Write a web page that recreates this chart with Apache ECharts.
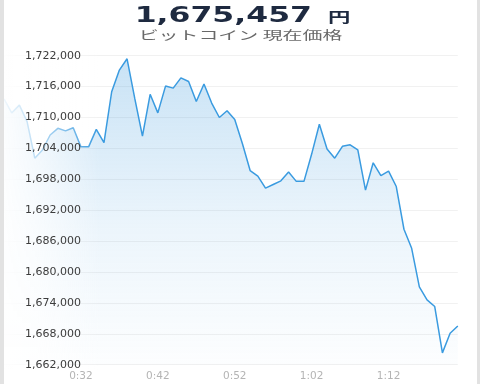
<!DOCTYPE html>
<html>
<head>
<meta charset="utf-8">
<script src="https://cdn.jsdelivr.net/npm/echarts@6/dist/echarts.min.js"></script>
<style>
html,body{margin:0;padding:0;background:#e2e2e2;width:480px;height:384px;overflow:hidden;}
#chart{position:absolute;left:4px;top:0;width:473px;height:384px;background:#ffffff;}
</style>
</head>
<body>
<div id="chart"></div>
<script>
const times = ['0:22','0:23','0:24','0:25','0:26','0:27','0:28','0:29','0:30','0:31',
  '0:32','0:33','0:34','0:35','0:36','0:37','0:38','0:39','0:40','0:41',
  '0:42','0:43','0:44','0:45','0:46','0:47','0:48','0:49','0:50','0:51',
  '0:52','0:53','0:54','0:55','0:56','0:57','0:58','0:59','1:00','1:01',
  '1:02','1:03','1:04','1:05','1:06','1:07','1:08','1:09','1:10','1:11',
  '1:12','1:13','1:14','1:15','1:16','1:17','1:18','1:19','1:20','1:21'];
const prices = [1713600,1710900,1712400,1709200,1702100,1703700,1706600,1707900,1707400,1708000,
  1704300,1704300,1707700,1705100,1715000,1719200,1721400,1713700,1706400,1714500,
  1710900,1716100,1715700,1717700,1717000,1713100,1716500,1712800,1710000,1711300,
  1709600,1704900,1699700,1698600,1696300,1697000,1697700,1699400,1697600,1697600,
  1702900,1708700,1703900,1702100,1704400,1704700,1703700,1695900,1701200,1698700,
  1699600,1696600,1688300,1684600,1677100,1674600,1673300,1664300,1668100,1669500];
const yTicks = [1662000,1668000,1674000,1680000,1686000,1692000,1698000,1704000,1710000,1716000,1722000];
const priceText = '1,675,457';
const unitText = '円';
const subtitleText = 'ビットコイン 現在価格';

const chart = echarts.init(document.getElementById('chart'), null, {renderer:'canvas'});
const yMin = yTicks[0], yMax = yTicks[yTicks.length-1], yStep = yTicks[1]-yTicks[0];
const fmt = v => Number(v).toLocaleString('en-US');

chart.setOption({
  animation:false,
  grid:{left:-2.3, right:19.2, top:55.7, bottom:19.3},
  xAxis:{
    type:'category', data:times, boundaryGap:false, z:10,
    axisLine:{show:false}, axisTick:{show:false}, splitLine:{show:false},
    axisLabel:{
      interval:9, hideOverlap:false, showMinLabel:false,
      color:'#b4b4b4', fontFamily:'DejaVu Sans', fontSize:10.5, margin:6
    }
  },
  yAxis:[{
    type:'value', min:yMin, max:yMax, interval:yStep, z:0,
    axisLine:{show:false}, axisTick:{show:false}, axisLabel:{show:false},
    splitLine:{show:true, lineStyle:{color:'#f1f1f1', width:1}}
  },{
    type:'value', min:yMin, max:yMax, interval:yStep, z:10, position:'left',
    axisLine:{show:false}, axisTick:{show:false}, splitLine:{show:false},
    axisLabel:{inside:true, margin:21, color:'#3c3c3c', fontFamily:'DejaVu Sans', fontSize:11, formatter:fmt}
  }],
  series:[{
    type:'line', data:prices, yAxisIndex:0, symbol:'none', smooth:false, z:2,
    lineStyle:{color:'#3a9be0', width:1.5},
    areaStyle:{color:new echarts.graphic.LinearGradient(0,0,0,1,[
      {offset:0, color:'rgba(70,158,222,0.42)'},
      {offset:0.55, color:'rgba(70,158,222,0.15)'},
      {offset:1, color:'rgba(70,158,222,0.02)'}
    ])}
  }],
  graphic:[
    {type:'rect', z:5, silent:true, shape:{x:0, y:50, width:96, height:320},
     style:{fill:new echarts.graphic.LinearGradient(0,0,1,0,[
       {offset:0, color:'rgba(255,255,255,0.92)'},
       {offset:0.35, color:'rgba(255,255,255,0.65)'},
       {offset:0.7, color:'rgba(255,255,255,0.3)'},
       {offset:1, color:'rgba(255,255,255,0)'}
     ])}},
    {type:'text', z:20, x:308, y:16.5, scaleX:1.5,
     style:{text:priceText, x:0, y:0, textAlign:'right', textVerticalAlign:'middle',
            font:'bold 21px "DejaVu Sans"', fill:'#1e2a40'}},
    {type:'text', z:20, x:324, y:17, scaleX:1.6,
     style:{text:unitText, x:0, y:0, textAlign:'left', textVerticalAlign:'middle',
            font:'bold 14px "Noto Sans CJK JP"', fill:'#1e2a40'}},
    {type:'text', z:20, x:236.5, y:35, scaleX:1.66,
     style:{text:subtitleText, x:0, y:0, textAlign:'center', textVerticalAlign:'middle',
            font:'12px "Noto Sans CJK JP"', fill:'#686868'}}
  ]
});
</script>
</body>
</html>
